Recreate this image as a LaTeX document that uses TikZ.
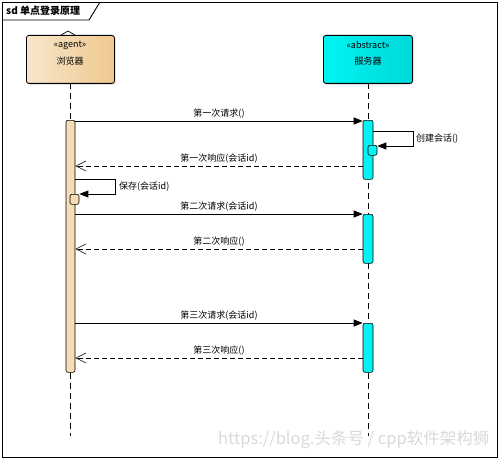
\documentclass[tikz,border=0pt]{standalone}
\usepackage{fontspec}
\setmainfont{Noto Sans CJK SC}
\usetikzlibrary{arrows.meta,shadows}
\definecolor{wheatL}{HTML}{F8E6CB}
\definecolor{wheatR}{HTML}{EFC88F}
\definecolor{actW}{HTML}{F6DDB8}
\definecolor{cyanL}{HTML}{00F4F4}
\definecolor{cyanR}{HTML}{00D8D8}
\tikzset{
  lbl/.style={font=\fontsize{9}{10}\selectfont, inner sep=1pt},
  lifeline/.style={draw, dashed, dash pattern=on 6pt off 4pt, line width=0.7pt},
  actbox/.style={draw, rounded corners=2pt, line width=0.6pt},
  msg/.style={draw, line width=0.7pt, -{Triangle[length=9pt,width=7pt]}},
  ret/.style={draw, line width=0.6pt, dash pattern=on 5pt off 3pt, -{Straight Barb[length=10pt,width=10pt,line width=0.6pt]}},
  head/.style={draw, rounded corners=2.5pt, line width=0.8pt, drop shadow={shadow xshift=1.2pt, shadow yshift=-1.2pt, opacity=0.35}},
}
\begin{document}
\begin{tikzpicture}[x=1pt,y=-1pt]
\useasboundingbox (0,0) rectangle (498,460);
% frame
\draw[line width=0.9pt] (2,2) rectangle (497,457);
\draw[line width=0.9pt] (2,20) -- (89,20) -- (100,2);
\node[anchor=west, font=\bfseries\fontsize{10}{11}\selectfont, inner sep=0pt] (title) at (6,11) {sd 单点登录原理};
% lifelines
\coordinate (bt) at (70,83); \coordinate (bb) at (70,436);
\coordinate (st) at (368,83); \coordinate (sb) at (368,436);
\draw[lifeline] (bt) -- (bb);
\draw[lifeline] (st) -- (sb);
% heads
\draw[line width=0.7pt] (51,41) -- (68,31) -- (85,41);
\node[head, left color=wheatL, right color=wheatR, minimum width=88pt, minimum height=48pt, anchor=north west] (browser) at (26,35) {};
\node[lbl] (bs) at (70,45) {«agent»};
\node[lbl] (bn) at (70,61) {浏览器};
\node[head, left color=cyanL, right color=cyanR, minimum width=89pt, minimum height=48pt, anchor=north west] (server) at (323,35) {};
\node[lbl] (ss) at (368,45) {«abstract»};
\node[lbl] (sn) at (368,61) {服务器};
% activations
\node[actbox, fill=actW, minimum width=9pt, minimum height=252pt, inner sep=0pt, anchor=north] (ba) at (70.5,120) {};
\node[actbox, fill=cyanL, minimum width=10pt, minimum height=59pt, inner sep=0pt, anchor=north] (sa1) at (368,120) {};
\node[actbox, fill=cyanL, minimum width=9pt, minimum height=10pt, inner sep=0pt, anchor=north] (sa1n) at (372.5,145) {};
\node[actbox, fill=cyanL, minimum width=10pt, minimum height=49pt, inner sep=0pt, anchor=north] (sa2) at (368,214) {};
\node[actbox, fill=cyanL, minimum width=10pt, minimum height=49pt, inner sep=0pt, anchor=north] (sa3) at (368,323) {};
\node[actbox, fill=actW, minimum width=9pt, minimum height=10pt, inner sep=0pt, anchor=north] (ban) at (74.5,194) {};
% messages
\draw[msg] (ba.east |- 0,121) -- (sa1.west |- 0,121) node[lbl, midway, above=1pt] (m1) {第一次请求()};
\draw[line width=0.7pt, -{Triangle[length=9pt,width=7pt]}] (sa1.east |- 0,131) -- (413,131) -- (413,146) -- (sa1n.east |- 0,146);
\node[lbl, anchor=west] (m1s) at (415,139) {创建会话()};
\draw[ret] (sa1.west |- 0,166) -- (ba.east |- 0,166) node[lbl, midway, above=1pt] (r1) {第一次响应(会话id)};
\draw[line width=0.7pt, -{Triangle[length=9pt,width=7pt]}] (ba.east |- 0,179) -- (115,179) -- (115,194) -- (ban.east |- 0,194);
\node[lbl, anchor=west] (bsave) at (118,187) {保存(会话id)};
\draw[msg] (ba.east |- 0,214) -- (sa2.west |- 0,214) node[lbl, midway, above=1pt] (m2) {第二次请求(会话id)};
\draw[ret] (sa2.west |- 0,249) -- (ba.east |- 0,249) node[lbl, midway, above=1pt] (r2) {第二次响应()};
\draw[msg] (ba.east |- 0,323) -- (sa3.west |- 0,323) node[lbl, midway, above=1pt] (m3) {第三次请求(会话id)};
\draw[ret] (sa3.west |- 0,358) -- (ba.east |- 0,358) node[lbl, midway, above=1pt] (r3) {第三次响应()};
% watermark
\node[anchor=west, text=black!15, font=\fontsize{16.5}{18}\selectfont, inner sep=0pt] (wm) at (218,440) {https://blog.头条号 / cpp软件架构狮};
\end{tikzpicture}
\end{document}
